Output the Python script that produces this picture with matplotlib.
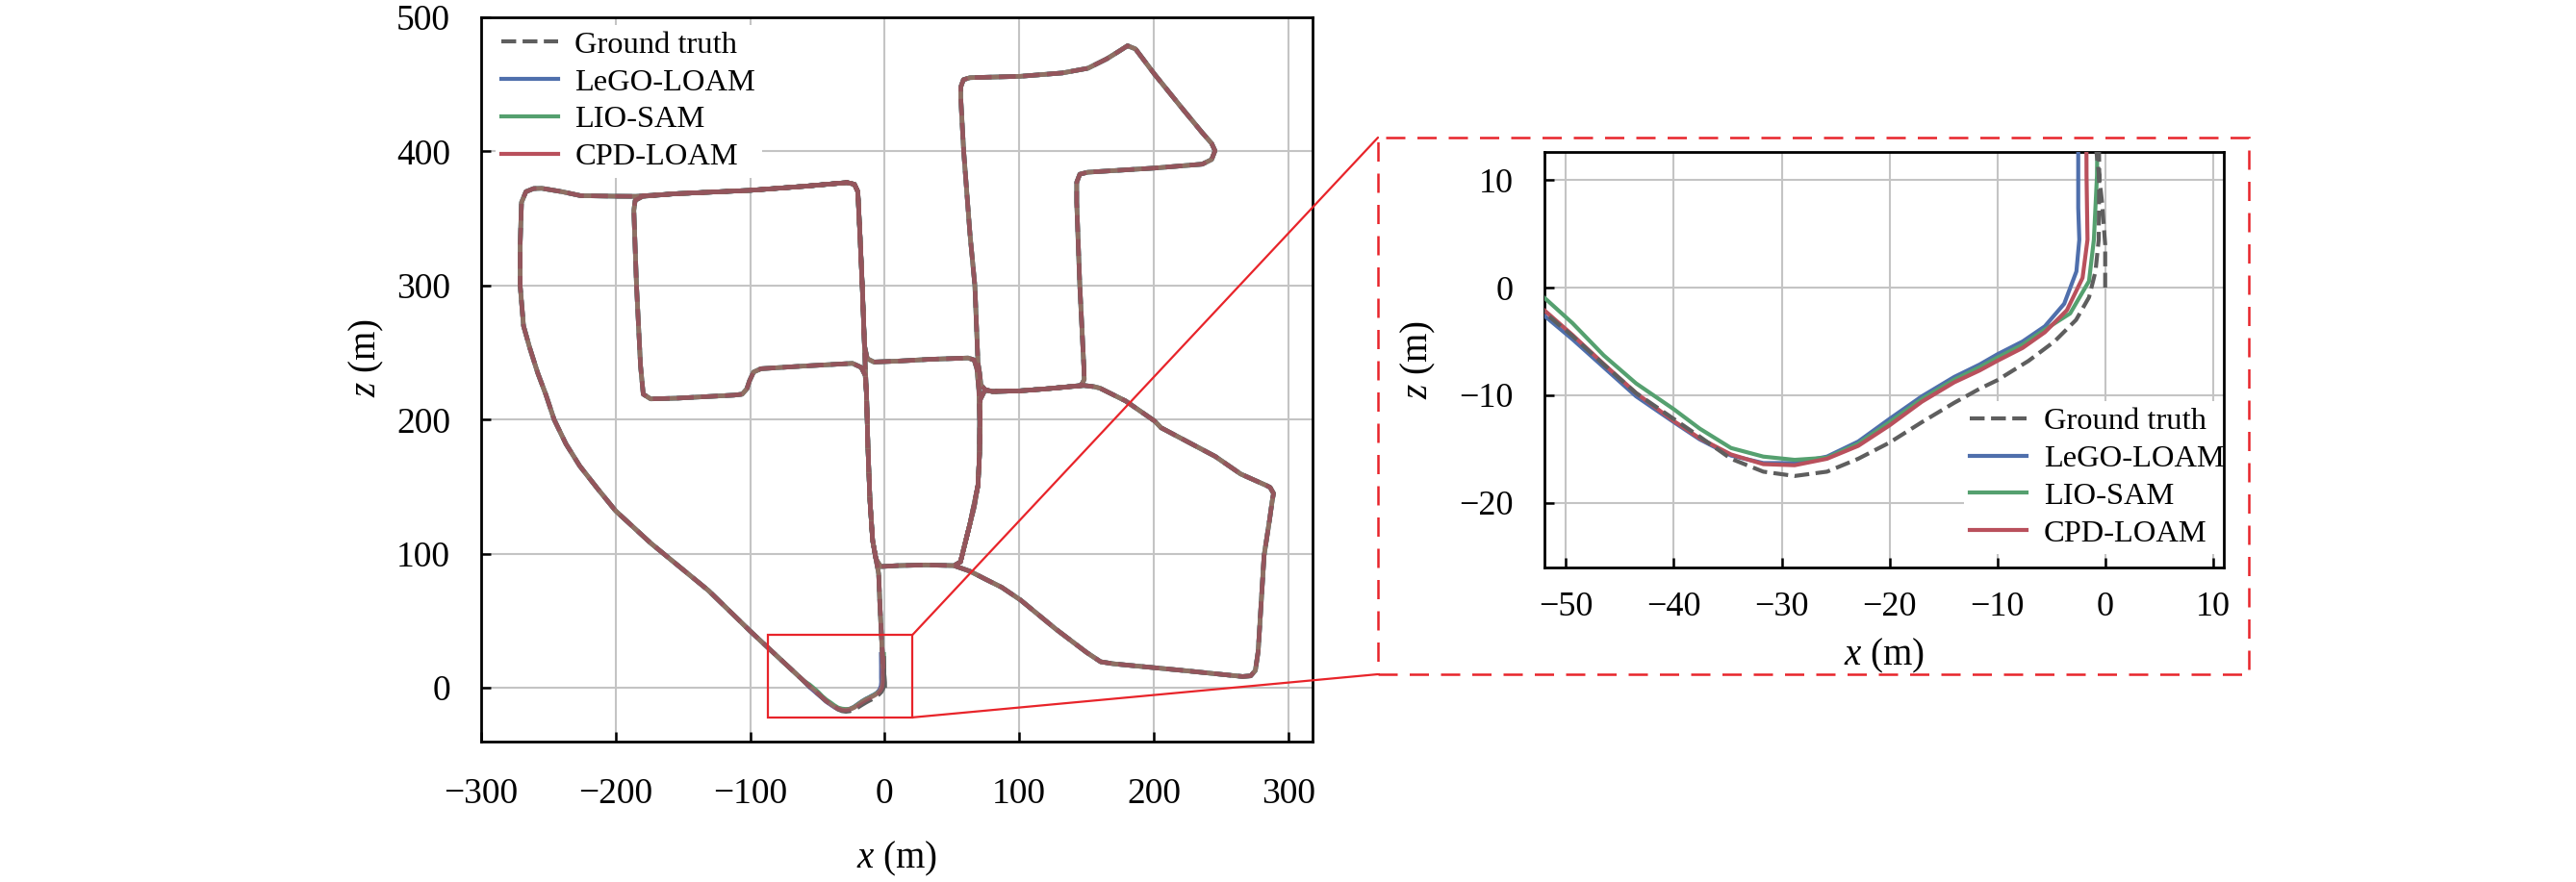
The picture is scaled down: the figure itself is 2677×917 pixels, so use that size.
import matplotlib
matplotlib.use('Agg')
import matplotlib.pyplot as plt
from matplotlib.patches import Rectangle, ConnectionPatch

# ---------------- data (metres) ----------------
labels = ['Ground truth', 'LeGO-LOAM', 'LIO-SAM', 'CPD-LOAM']

# ground-truth start stub at the origin
gt_start_x = [0.0, 0.0, -0.3, -0.8]
gt_start_z = [0.0, 4.0, 8.0, 12.5]

# shared large-scale route (all methods coincide at this scale)
route_x = [-1.2, -2.0, -3.5, -4.5, -6.5, -9.0, -11.0, -12.5, -13.5, -14.5,
           -17.5, -24, -60, -92, -97.5, -100.5, -102.5, -106, -112, -155, -174, -179.5,
           -181.5, -184.5, -186.5, -185.5,
           -180, -155, -100, -60, -28, -22.5, -20,
           -18.5, -16.7, -15, -13, -8,
           10, 33, 62, 66.5,
           68.5, 70, 70.5, 70.5, 69.3, 66.5, 63.4, 56.3, 52,
           63.4, 75, 87, 101, 127, 150, 160.5, 170, 222, 266, 272, 275.5,
           277.6, 282, 286, 288, 289, 286.5, 283.6,
           264.6, 245.7, 205.4, 200.6, 179, 160, 155.7, 148,
           120, 100.5, 80, 74.5, 71.5,
           70.5, 69.3, 67, 63.4, 58.7, 56.5, 56.5, 58.5, 63.4,
           100.5, 132, 151, 165, 174.6, 180.5, 186.4, 200.6, 222, 236, 243, 245.5, 243, 236,
           200.6, 151, 145, 142.7, 142.7, 145, 148, 148.3, 146,
           120, 100.5, 80, 74.5, 71, 70.5, 69.3, 63.4, 56.3, 51.5,
           30.3, 10, -3, -6.5, -9, -11, -12.5, -13.5, -14.5, -16.7, -18.5, -20, -22.5, -28,
           -60, -100, -155, -185, -200, -226, -240, -255, -261, -266.7, -270,
           -271, -271, -268.5, -264, -258, -252, -245.7, -237, -226.7, -213, -200, -174,
           -131, -99.3, -60]
route_z = [16, 30, 60, 85, 96, 110, 140, 180, 218, 233,
           239, 242, 240, 238, 235.5, 229, 223, 219, 218.3, 216, 215.5, 219,
           240, 300, 356, 363.5,
           366.5, 368.5, 371, 374, 376.8, 375.5, 370,
           340, 300, 255, 245.5, 243,
           243.7, 245, 246, 244.5,
           238, 222, 200, 175, 151, 135, 122.6, 94, 91,
           87, 81, 75, 65.5, 44, 26.5, 19.5, 18, 13, 8.5, 9, 13,
           27.4, 98.8, 125, 139.3, 145, 149.5, 151,
           159.5, 172.6, 194, 199, 214, 223.5, 224.6, 225.5,
           223, 221.5, 221, 222.5, 226,
           235, 242.5, 300, 338, 400, 440, 448, 453.5, 455,
           456, 458.5, 462, 469, 475, 478.8, 476.4, 457.5, 431, 414, 406, 400.5, 394, 390.5,
           387.6, 384.5, 383, 377, 362, 300, 240, 230, 225.5,
           223, 221.5, 221, 222, 215, 175, 151, 122.6, 94, 91.2,
           91.7, 91.2, 90.5, 96, 110, 140, 180, 218, 240, 300, 340, 370, 375.5, 376.8,
           374, 371, 368.5, 366.5, 366.6, 367, 370, 372.5, 372.3, 370, 362,
           330, 300, 270, 254, 235, 219, 200, 182, 165.5, 148, 132, 108,
           72.6, 41.7, 5]

# loop-closure section (detail shown in the zoomed panel)
gt_close_x = [-56, -51.9, -49.4, -46.5, -43.5, -40, -37.6, -34.7, -31.7, -28.8, -25.8,
              -22.9, -20, -17, -14, -11.65, -10, -7.1, -4.7, -2.7, -1.5, -0.9, -0.6,
              -0.55, -0.6, -0.8]
gt_close_z = [1.1, -2.4, -4.5, -7.15, -9.8, -12.2, -13.85, -15.9, -17.1, -17.5, -17.1,
              -15.9, -14.4, -12.5, -10.7, -9.4, -8.6, -6.8, -5.0, -3.0, -0.9, 1.5, 4.45,
              10.4, 16, 25]

lego_close_x = [-56, -51.9, -49.4, -46.5, -43.5, -40, -37.6, -34.7, -31.7, -28.8, -25.8,
                -22.9, -20, -17, -14, -11.65, -10, -7.65, -5.6, -3.8, -2.67, -2.4, -2.5,
                -2.5, -2.6]
lego_close_z = [0.8, -2.7, -4.8, -7.4, -10.1, -12.5, -14.1, -15.6, -16.3, -16.3, -15.7,
                -14.3, -12.2, -10.1, -8.3, -7.15, -6.2, -5.0, -3.6, -1.5, 1.5, 4.45, 7.4,
                16, 25]

lio_close_x = [-56, -51.9, -49.4, -46.5, -43.5, -40, -37.6, -34.7, -31.7, -28.8, -25.8,
               -22.9, -20, -17, -14, -11.65, -10, -7.65, -5.6, -3.25, -1.5, -1.05, -0.76,
               -0.7, -0.8]
lio_close_z = [2.4, -1.04, -3.3, -6.3, -8.9, -11.3, -13.1, -14.9, -15.7, -16.0, -15.8,
               -14.5, -12.5, -10.35, -8.55, -7.4, -6.5, -5.3, -3.9, -2.4, 0.6, 4.45, 10.4,
               16, 25]

cpd_close_x = [-56, -51.9, -49.4, -46.5, -43.5, -40, -37.6, -34.7, -31.7, -28.8, -25.8,
               -22.9, -20, -17, -14, -11.65, -10, -7.65, -5.6, -3.55, -2.1, -1.64, -1.73,
               -1.75, -1.8]
cpd_close_z = [1.3, -2.2, -4.4, -7.1, -9.8, -12.4, -14.0, -15.5, -16.4, -16.5, -15.9,
               -14.7, -12.8, -10.6, -8.8, -7.7, -6.8, -5.6, -4.15, -2.1, 0.9, 4.45, 10.4,
               16, 25]

main_xticks = [-300, -200, -100, 0, 100, 200, 300]
main_zticks = [0, 100, 200, 300, 400, 500]
zoom_xticks = [-50, -40, -30, -20, -10, 0, 10]
zoom_zticks = [-20, -10, 0, 10]

# zoom window drawn on the main plot
zoom_rect = (-87, -22, 107.4, 61.3)   # x0, z0, width, height

# ---------------- assemble trajectories ----------------
gt_x = gt_start_x + route_x + gt_close_x
gt_z = gt_start_z + route_z + gt_close_z
lego_x = route_x + lego_close_x
lego_z = route_z + lego_close_z
lio_x = route_x + lio_close_x
lio_z = route_z + lio_close_z
cpd_x = route_x + cpd_close_x
cpd_z = route_z + cpd_close_z

# ---------------- style ----------------
plt.rcParams['font.family'] = ['Liberation Serif', 'DejaVu Serif']
plt.rcParams['mathtext.fontset'] = 'custom'
plt.rcParams['mathtext.rm'] = 'Liberation Serif'
plt.rcParams['mathtext.it'] = 'Liberation Serif:italic'

C_GT = '#5e5e5e'
C_LEGO = '#4f6fac'
C_LIO = '#55a06f'
C_CPD = '#b9505c'
C_RED = '#e8242a'

W, H = 2677, 917
fig = plt.figure(figsize=(W / 100, H / 100), dpi=100)


def px_rect(l, t, r, b):
    return [l / W, 1 - b / H, (r - l) / W, (b - t) / H]


ax = fig.add_axes(px_rect(500, 18, 1364, 771))
axi = fig.add_axes(px_rect(1605, 158, 2311, 590))

# main panel
ax.plot(lego_x, lego_z, color=C_LEGO, lw=3.4, zorder=3)
ax.plot(lio_x, lio_z, color=C_LIO, lw=3.4, zorder=3)
ax.plot(gt_x, gt_z, color=C_GT, lw=3.4, ls='--', zorder=3)
ax.plot(cpd_x, cpd_z, color=C_CPD, lw=3.4, alpha=0.6, zorder=3)

ax.set_xlim(-300, 318)
ax.set_ylim(-40, 500)
ax.set_xticks(main_xticks)
ax.set_yticks(main_zticks)

# zoomed panel
l_lego, = axi.plot(lego_x, lego_z, color=C_LEGO, lw=3.0, zorder=3)
l_lio, = axi.plot(lio_x, lio_z, color=C_LIO, lw=3.0, zorder=3)
l_cpd, = axi.plot(cpd_x, cpd_z, color=C_CPD, lw=3.0, zorder=3)
l_gt, = axi.plot(gt_x, gt_z, color=C_GT, lw=3.0, ls='--', zorder=3)
axi.set_xlim(-52, 11)
axi.set_ylim(-26, 12.6)
axi.set_xticks(zoom_xticks)
axi.set_yticks(zoom_zticks)

for a, fs, xpad, ypad in ((ax, 27, 27, 23), (axi, 26, 18, 23)):
    a.grid(True, color='#c4c4c4', lw=1.5)
    a.set_axisbelow(True)
    for s in a.spines.values():
        s.set_linewidth(2.0)
    a.tick_params(direction='in', length=7, width=1.8, labelsize=fs,
                  top=False, right=False)
    a.tick_params(axis='x', pad=xpad)
    a.tick_params(axis='y', pad=ypad)

ax.set_xlabel(r'$x$ (m)', fontsize=28)
ax.set_ylabel(r'$z$ (m)', fontsize=28)
ax.xaxis.set_label_coords(0.5, -0.135)
ax.yaxis.set_label_coords(-0.115, 0.53)
axi.set_xlabel(r'$x$ (m)', fontsize=28)
axi.set_ylabel(r'$z$ (m)', fontsize=28)
axi.xaxis.set_label_coords(0.5, -0.167)
axi.yaxis.set_label_coords(-0.157, 0.5)

handles = [l_gt, l_lego, l_lio, l_cpd]
leg_kw = dict(borderaxespad=0, borderpad=0.2, labelspacing=0.28, handlelength=1.8,
              handletextpad=0.55, fontsize=23.4, frameon=True, framealpha=1,
              edgecolor='none', facecolor='white', fancybox=False)
lg = ax.legend(handles, labels, loc='upper left', bbox_to_anchor=(0.0168, 0.99), **leg_kw)
lg.set_zorder(2.4)
lgi = axi.legend(handles, labels, loc='lower right', bbox_to_anchor=(1.01, 0.032), **leg_kw)
lgi.set_zorder(2.4)

# zoom rectangle and connectors
ax.add_patch(Rectangle(zoom_rect[:2], zoom_rect[2], zoom_rect[3], fill=False,
                       ec=C_RED, lw=1.6, zorder=6))
bx0, by0, bx1, by1 = 1432 / W, 1 - 701 / H, 2337 / W, 1 - 143 / H
fig.add_artist(Rectangle((bx0, by0), bx1 - bx0, by1 - by0, transform=fig.transFigure,
                         fill=False, ec=C_RED, lw=1.8, ls=(0, (8, 5))))
rx1 = zoom_rect[0] + zoom_rect[2]
fig.add_artist(ConnectionPatch(xyA=(rx1, zoom_rect[1] + zoom_rect[3]), coordsA=ax.transData,
                               xyB=(bx0, by1), coordsB=fig.transFigure,
                               color=C_RED, lw=1.6))
fig.add_artist(ConnectionPatch(xyA=(rx1, zoom_rect[1]), coordsA=ax.transData,
                               xyB=(bx0, by0), coordsB=fig.transFigure,
                               color=C_RED, lw=1.6))

fig.savefig('out.png', dpi=100)
